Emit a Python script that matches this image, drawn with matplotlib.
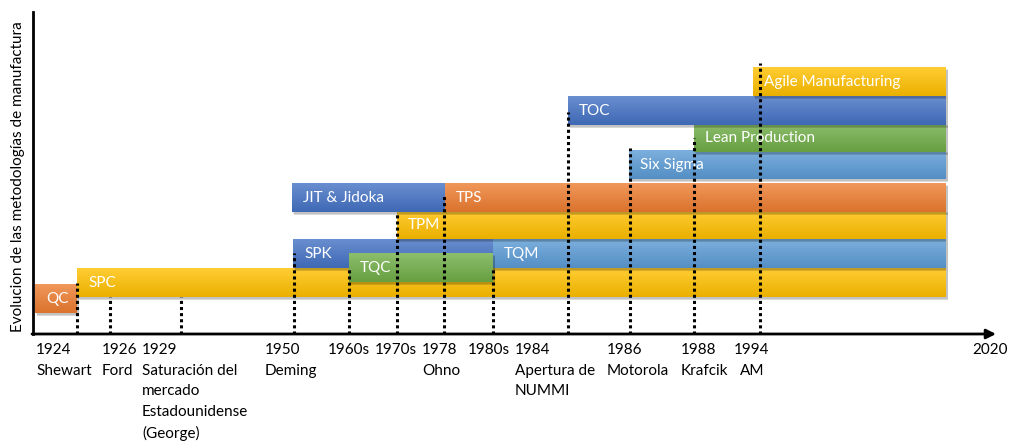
import numpy as np
import matplotlib
matplotlib.use("Agg")
import matplotlib.pyplot as plt
import matplotlib.colors as mcolors
from matplotlib.patches import Rectangle

plt.rcParams['font.family'] = ['Lato', 'DejaVu Sans']

# Schematic timeline: milestones along the horizontal axis
milestone_years = ['1924', '1926', '1929', '1950', '1960s', '1970s', '1978',
                   '1980s', '1984', '1986', '1988', '1994']
milestone_names = ['Shewart', 'Ford', 'Saturación del\nmercado\nEstadounidense\n(George)',
                   'Deming', '', '', 'Ohno', '', 'Apertura de\nNUMMI', 'Motorola',
                   'Krafcik', 'AM']
# position of each milestone on the (non linear) timeline scale
milestone_pos = [44, 77, 148, 261, 316, 364, 411, 460, 535, 597, 661, 727]
# height reached by the dotted guide of each milestone
milestone_top = [51, 37, 37, 81, 67, 121, 139, 66, 222, 186, 196, 271]
end_label = '2020'

# Methodologies (bars), in drawing order
methods = ['QC', 'SPC', 'SPK', 'TQM', 'TQC', 'TPM', 'JIT & Jidoka', 'TPS',
           'Six Sigma', 'Lean Production', 'TOC', 'Agile Manufacturing']
bar_start = [2, 44, 260, 460, 316, 364, 259, 412, 596, 661, 535, 720]
bar_end = [44, 913, 460, 913, 460, 913, 412, 913, 913, 913, 913, 913]
bar_level = [21, 37, 66, 66, 52, 95, 122, 122, 155, 182, 209, 238]
bar_color = ['#ED7D31', '#FFC000', '#4472C4', '#5B9BD5', '#70AD47', '#FFC000',
             '#4472C4', '#ED7D31', '#5B9BD5', '#70AD47', '#4472C4', '#FFC000']

BAR_H = 29
FS = 11


def draw_bar(ax, x0, x1, y0, h, color, z):
    base = np.array(mcolors.to_rgb(color))
    top = base + (1 - base) * 0.2
    bottom = base * 0.92
    t = np.linspace(0, 1, 32)[:, None, None]
    img = top * (1 - t) + bottom * t
    # soft shadow
    ax.add_patch(Rectangle((x0 + 1.5, y0 - 3), x1 - x0, h, facecolor='black',
                           edgecolor='none', alpha=0.15, zorder=z - 0.2))
    ax.add_patch(Rectangle((x0 + 0.5, y0 - 1.5), x1 - x0 + 1, h, facecolor='black',
                           edgecolor='none', alpha=0.1, zorder=z - 0.1))
    ax.imshow(img, extent=(x0, x1, y0, y0 + h), origin='upper', aspect='auto',
              interpolation='bilinear', zorder=z)


fig = plt.figure(figsize=(10.1, 4.44), dpi=100)
ax = fig.add_axes([33 / 1010, 110 / 444, 962 / 1010, 322 / 444])

for i, name in enumerate(methods):
    z = 2 + i
    draw_bar(ax, bar_start[i], bar_end[i], bar_level[i], BAR_H, bar_color[i], z)
    ax.text(bar_start[i] + 11, bar_level[i] + BAR_H / 2, name, color='white',
            fontsize=FS, ha='left', va='center', zorder=z + 0.05)

# dotted guides
for pos, top in zip(milestone_pos, milestone_top):
    ax.plot([pos, pos], [0, top], color='black', lw=2.2,
            linestyle=(0, (1, 1)), zorder=50, solid_capstyle='butt')

# axes drawn as lines with arrow
ax.plot([0, 0], [0, 322], color='black', lw=2, zorder=60, clip_on=False)
ax.annotate('', xy=(963, 0), xytext=(-1, 0),
            arrowprops=dict(arrowstyle='-|>', lw=2, color='black',
                            mutation_scale=14, shrinkA=0, shrinkB=0),
            zorder=60, annotation_clip=False)

# milestone labels
label_x = [3, 69, 109, 232, 295, 342, 389, 435, 482, 574, 648, 719]
for i, (yr, nm) in enumerate(zip(milestone_years, milestone_names)):
    txt = yr if not nm else yr + '\n' + nm
    ha = 'center' if yr == '1994' else 'left'
    ax.text(label_x[i], -9, txt, fontsize=FS, ha=ha, va='top',
            multialignment='center' if ha == 'center' else 'left',
            linespacing=1.6, clip_on=False)
ax.text(975, -9, end_label, fontsize=FS, ha='right', va='top', clip_on=False)

ax.text(-15, 157, 'Evolucion de las metodologías de manufactura', fontsize=FS,
        rotation=90, ha='center', va='center', clip_on=False)

ax.set_xlim(0, 962)
ax.set_ylim(0, 322)
ax.axis('off')

fig.savefig('out.png', dpi=100)
